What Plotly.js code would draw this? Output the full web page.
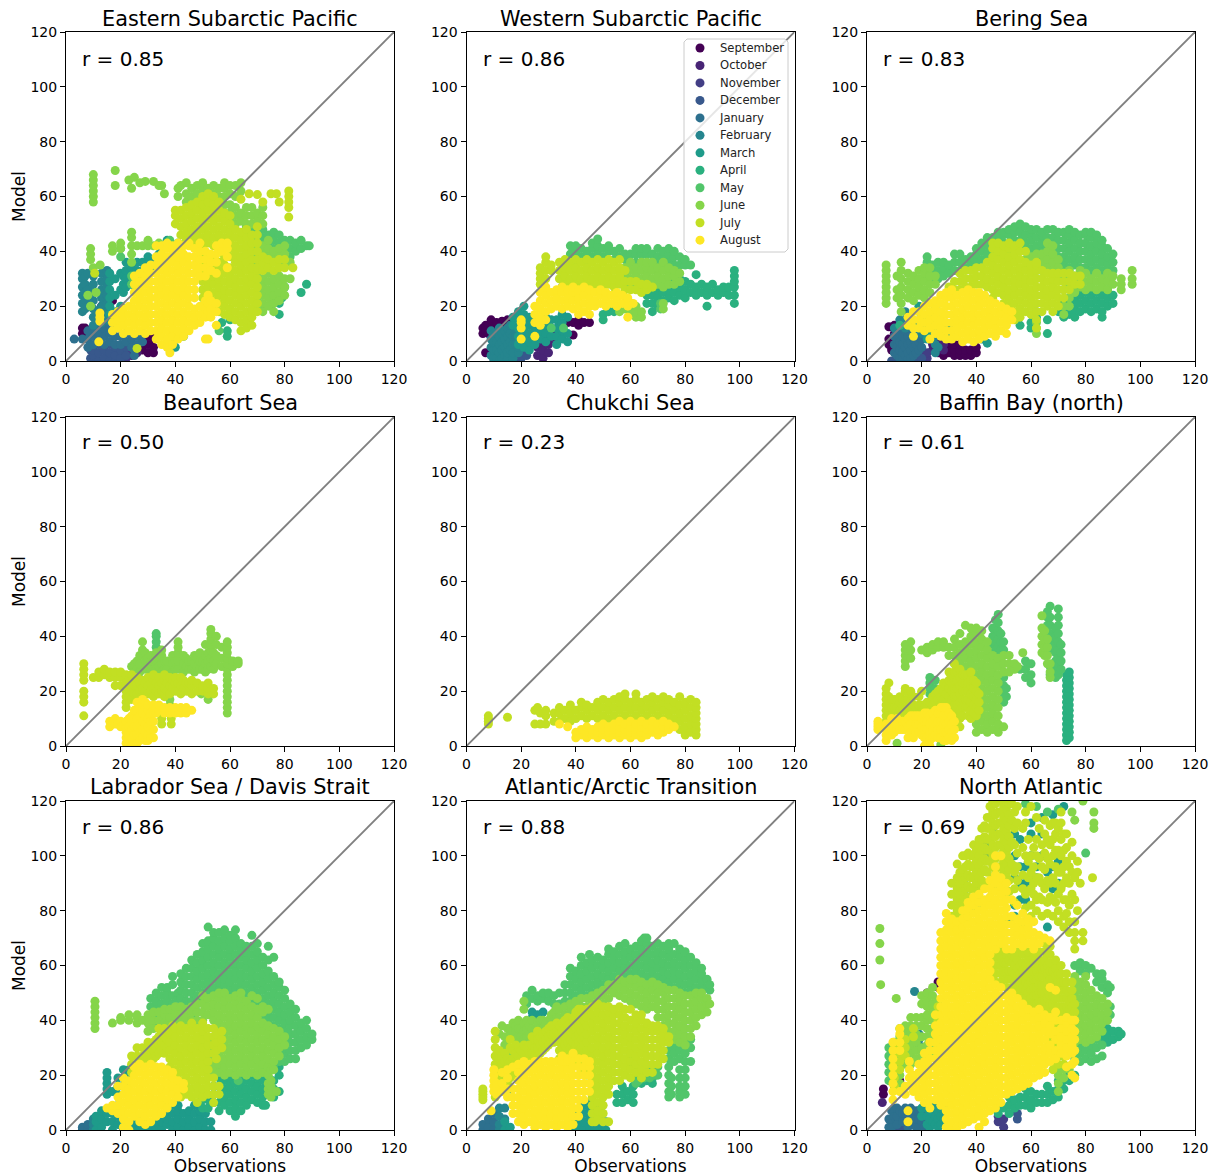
<!DOCTYPE html>
<html><head><meta charset="utf-8">
<script src="https://cdn.plot.ly/plotly-3.0.1.min.js"></script>
<style>html,body{margin:0;padding:0;background:#fff}</style></head>
<body><div id="chart" style="width:1216px;height:1176px"></div>
<script>
// Every column below reads [observation value, model value, model value, ...]
const monthNames=["September","October","November","December","January","February","March","April","May","June","July","August"];
const monthColors=["#440154","#482475","#433e85","#38588c","#2d708e","#25858e","#1e9b8a","#2ab07f","#51c56a","#85d54a","#c2df23","#fde725"];
const panelTitles=["Eastern Subarctic Pacific","Western Subarctic Pacific","Bering Sea","Beaufort Sea","Chukchi Sea","Baffin Bay (north)","Labrador Sea / Davis Strait","Atlantic/Arctic Transition","North Atlantic"];
const panelR=["r = 0.85","r = 0.86","r = 0.83","r = 0.50","r = 0.23","r = 0.61","r = 0.86","r = 0.88","r = 0.69"];
const axisTicks=[0,20,40,60,80,100,120];

// Eastern Subarctic Pacific
const eastSep=[[6,10,12],[7,12],[8,11],[13,20],[14,21],[15,21],[17,22],[28,4,7],[30,3,6,9],[32,3,5,8,10]];
const eastOct=[[24,2],[26,3,5]];
const eastNov=[[18,1,3],[20,2],[22,1,4]];
const eastDec=[[9,1,4],[10,0,2,4],[12,0,3,6],[14,1,4],[16,0,3,6],[18,0,2,5],[20,1,4],[22,2,5]];
const eastJan=[[3,8],[6,8],[8,5,8,11],[10,6,9,12],[12,7,10,13],[14,6,9,12],[16,7,10,13],[18,6,9,12],[20,6,9],[22,7,10],[24,5,8],[26,6,9],[28,7,10],[25,2,4]];
const eastFeb=[[6,18,21,24,27,30,32],[7,19,22,25,28,31],[8,20,26,32],[10,13,16,19,22,25,28,31],[11,15,18],[13,14,17,20,23,26,29,32],[15,15,18,21,24,27,30,33]];
const eastMar=[[16,17,20,23,26,29,32],[18,15,18,24,30],[20,20,26,32],[21,25,28,31],[22,27,30,33,36],[24,28,31,34],[26,27,30,33,36],[28,30,33,36],[30,32,35,38],[32,33,36],[34,39,42],[37,44],[40,5,8]];
const eastApr=[[43,9,11],[59,9,11],[86,25],[88,28],[78,17],[80,27],[79,23,25],[72,20],[75,20],[76,22],[78,21],[57,14],[60,15]];
const eastMay=[[66,46,49],[68,44,47],[70,40,43,46,49],[72,39,42,45,48],[74,40,43,46],[76,38,41,44,47],[78,40,43,46],[80,38,41,44],[82,38,41,44],[84,40,43],[86,41,44],[88,42],[89,42],[56,11],[38,44],[41,43],[20,38,41],[24,28,31]];
const eastJun=[[41,60,63],[42,64],[44,58,61,65],[46,60,63],[48,58,61,64],[50,59,62,65],[52,60,63],[54,58,61,64],[56,60,63],[58,54,57,60,63,65],[60,51,54,57,61,64],[62,50,53,56,60,64],[64,51,54,62,65],[66,36,39,42,50,53,56],[68,35,38,41,44,50,53,56],[70,19,22,25,28,31,36,39,42,51,54],[72,18,21,24,27,30,36,39,42,50,53,56],[74,20,23,26,29,32,35,38,41,44],[76,18,21,24,27,30,37,40],[78,22,25,28,31,35,38,41],[80,24,27,30,36,39,42],[82,30,36],[10,58,60,62,64,66,68],[18,64,69.5],[23,66],[24,36,39,42,45,47,63],[25,67],[27,65],[29,65.5],[32,65.5],[34,64],[36,61],[35,64],[17,40,42],[20,41,43],[26,42],[28,42],[30,42,44],[32,42],[34,43],[9,37,39,41],[10,34],[12.5,35],[8,24],[11,25],[9,20]];
const eastJul=[[26,4.6],[10.5,32],[40,50,53,55],[42,46,49,52,55],[44,44,47,50,53,56],[46,42,45,48,51,54,57],[48,43,46,49,52,55,58],[50,17,20,23,26,29,32,35,38,42,45,48,51,54,57,60],[52,18,21,24,27,30,33,36,43,46,49,52,55,58,61],[54,19,22,25,28,31,34,37,42,45,48,51,54,57,60],[56,18,21,24,27,30,33,36,40,43,46,49,52,55,58],[58,17,20,23,26,29,32,35,38,42,45,48,51,54],[60,16,19,22,25,28,31,34,38,41,44,47,50,53],[62,15,18,21,24,27,30,33,36,39,42,45,48],[64,11,14,17,20,23,26,29,32,35,38,41,44,47,59],[66,12,15,18,21,24,27,30,33,36,39,42,45,48],[67,61],[68,13,16,19,22,25,28,31,34,37,40,43,46],[70,18,21,24,27,30,33,34,37,40,43,46,49,60.7],[72,33,36,38,58],[74,34,37],[75,61],[76,33,36],[77,61],[78,34,37,58],[80,34,37],[81.5,52.5,56,58,60,62],[83,34]];
const eastAug=[[12,7],[12.4,14.5,16,17.5],[17,11,14,17],[19,12,15,18],[21,10,13,16,19],[23,11,14,17,20],[25,10,13,16,19,22,25,28,31],[27,11,14,17,20,23,26,29,32],[29,10,13,16,19,22,25,28,31,34],[31,11,14,17,20,23,26,29,32,35],[33,8,11,14,17,20,23,26,29,32,35,38,42],[35,6,9,12,15,18,21,24,27,30,33,36,39,42],[37,5,8,11,14,17,20,23,26,29,32,35,38,41,43],[38,3],[39,6,9,12,15,18,21,24,27,30,33,36,39,42],[41,8,11,14,17,20,23,26,29,32,35,38,41,43],[43,9,12,15,18,21,24,27,30,33,36,39,42],[45,11,14,17,20,23,26,29,32,35,38,42,43],[47,13,16,19,23,26,29,32,35,38,41],[49,14,17,20,31,34,37,40,43],[51,8,16,19,22,31,34,37,40],[52,8,18,21,24],[53,16,19,22,33,36,39],[55,13,18,21,32,36,39,42],[57,40,43],[59,34,38,41,43]];

// Western Subarctic Pacific
const westSep=[[6,10,12],[7,3,11,13],[8,10,13],[9,12,15],[11,12,14],[13,13,14.5],[15,13,15],[17,14],[37,14],[39,14,9.5],[41,13,15],[43,14],[45,14]];
const westOct=[[22,4,7],[24,6,9],[26,2,5,8],[28,1,4,7,10],[30,3,6,9,12],[32,8,11],[34,10]];
const westDec=[[16,1,3],[18,0,2,4],[20,1,3,5],[22,2,4]];
const westJan=[[10,0],[14,0,2]];
const westFeb=[[9,2,5,8,11],[10,1,4,7,10],[11,1,4,7,10],[12,0,3,6,9,12],[13,1,4,7,10],[14,2,5,8,11],[15,1,3,6,9,12],[16,4,7,10,13],[17,1,3,6,9],[18,6,9,12],[19,3,5],[20,7,10,13]];
const westMar=[[17,13,16],[19,6,9,12,15,18],[21,5,8,11,14,17,20],[23,4,7,10,13,16],[25,6,9,12,15],[27,8,11,14],[29,7,10,13,16],[31,9,12,15],[33,6,9,12,15],[35,8,11,14,17,27,30],[37,7,10,16,26,29]];
const westApr=[[50,15,17],[52,18],[54,18,20],[66,21,24],[68,18,21,24],[70,20,23,26],[72,22,25,28],[74,23,26,29],[76,22,25,28,30],[78,24,27,30],[80,23,26,29],[82,25,28],[84,24,27,31.5],[86,25,28],[88,20,24,27],[90,25,28],[92,24,26],[94,25,27],[96,24,27],[98,21,24,27,29,31,33]];
const westMay=[[38,36,39,42],[40,37,40,42],[42,38,41],[44,37,40],[46,38,41,43],[48,39,42,44.5],[50,38,41],[52,40,42],[54,37,40],[56,38,41],[58,37,39],[60,36,39],[62,36,39,41],[64,36,39,41],[66,36,39,41],[68,36,39],[70,35,38,41],[72,35,38,40],[74,36,39,41],[76,35,38,40],[78,35,38],[80,35,37],[82,35],[71,19,21],[31,12],[35.5,12]];
const westJun=[[58,28,31,34],[60,27,30,33,36],[62,28,31,34],[64,27,30,33,36],[66,28,31,34,36],[68,27,30,33,36],[70,28,31,34],[72,27,30,33,36],[74,28,31,34],[76,28,31,33],[78,29,32],[56,18,20],[58,19,21],[60,17,19,21],[62,16,18,20],[64,16,18],[72,19,21]];
const westJul=[[27,28,30,32,34],[29,30,33,36,38],[31,33,35],[34,30,33,36],[36,28,31,34,37],[38,27,30,33,36],[40,24,28,31,34,37],[42,27,30,33,36],[44,28,31,34,37],[46,27,30,33,36],[48,28,31,34,37],[50,27,30,33,36],[52,28,31,34,37],[54,27,30,33,36],[56,28,31,34,37],[58,26,29,33],[60,26,29],[62,26,29],[64,25,28],[66,26,28],[68,27]];
const westAug=[[20,8,12,14,15],[25,9,14,17,20],[27,13,16,19,22,25],[29,15,18,21,24,27],[31,19,22,25],[33,20,23,26],[35,19,22,25,27],[37,20,23,26],[39,19,22,25,27],[41,17,20,23,26],[43,18,21,24,27],[45,17,20,23,26],[47,20,22,25],[49,21,24,26],[51,20,23,25],[53,21,24],[55,20,23,25],[57,21,24],[59,16,20,23],[61,21]];

// Bering Sea
const berSep=[[8,6,8,12.5],[9,4,7],[10,10,13],[26,3,5],[28,2,4,6],[30,3,5,7],[32,2,4,6],[34,2,4,6],[36,2,4],[38,2,4],[40,3,5]];
const berOct=[[24,4,6],[26,7],[28,4,6]];
const berNov=[[20,2,4],[22,1,3]];
const berDec=[[18,0,2],[20,1],[9,0],[11,0,2]];
const berJan=[[10,3,6,9],[11,2,5,8],[12,1,4,7,10],[13,1,3,6,9],[14,2,5,8,11],[15,1,3,6,9,12],[16,1,4,7,10],[17,2,5,8],[18,3,6,9],[19,4,7],[20,5,8]];
const berFeb=[[10,12],[12,13,15],[14,12,15,18],[16,13],[18,12],[20,10,12],[25,3,6,9,12],[26,5]];
const berMar=[[18,12,14],[20,13,15],[22,8,11,14],[24,10,13,16],[26,12,15],[28,9,12],[30,10,13],[19,18,20],[25,19],[44,6.5],[42,8,10]];
const berApr=[[60,12,14],[62,16,18],[66,10,15],[70,18,20],[72,16,19,22],[74,17,20,23],[76,16,19,22,25],[78,18,21,24],[80,19,22,25],[82,18,21,24,26],[84,19,22,25],[86,16,18,21,24],[88,20,23,26],[90,21,24],[56,13],[12,13]];
const berMay=[[22,30,33,36,38],[24,29,32,35],[26,30,33,36],[28,31,34,36],[30,32,35],[32,33,36,39],[34,33,36,39],[36,34,37],[38,35,38],[40,36,39,41],[42,37,40,43],[44,39,42,45],[46,37,40,43,45],[48,38,41,44,47],[50,40,43,46,47],[52,40,43,46,48],[54,41,44,47,49],[56,41,44,47,50],[58,40,43,46,49],[60,38,41,44,47,48],[62,36,39,42,45,48],[64,37,40,43,46,47],[66,36,39,42,45,48],[68,36,39,42,45,48],[70,35,38,41,44,47],[72,35,38,41,44,47],[74,34,37,40,43,46,48],[76,35,38,41,44,47],[78,34,37,40,43,46],[80,34,37,40,43,46,47],[82,33,36,39,42,45,47],[84,34,37,40,43,46],[86,33,36,39,42,44],[88,32,35,38,41],[90,33,36,39]];
const berJun=[[7,21,23,25,27,29,31,33,35],[11,23,26,31],[12.5,18,21,24,27,30,33,36],[15,23,26,29,32],[17,22,25,28,31],[19,24,27,30,33],[21,23,26,29,32,34],[23,25,28,31,34],[25,28,31],[58,34,37],[60,32,35,38],[62,10,12,14,33,36,39],[64,33,36,39],[66,34,37,40,43],[68,33,36,39,42],[70,31,34,37],[72,17,20,26,29,32],[74,20,23,27,30,33],[76,25,28,31],[78,27,30,33],[80,26,29,32],[82,27,30],[84,26,29,32],[86,27,30],[88,26,29,32],[90,28,31],[93,26,28,30],[97,28,30,33]];
const berJul=[[30,27],[32,26,29],[34,26,29,32],[36,27,30,33],[38,27,30,33],[40,28,31,34],[42,28,31,34],[44,27,30,33,36],[46,23,26,29,32,35,38,41,43],[48,25,28,31,34,37,40,43],[50,18,21,24,27,30,33,36,39,42],[52,17,20,23,26,29,32,35,38,41,43],[54,15,18,21,24,27,30,33,36,39,42],[56,16,19,22,25,28,31,34,37,40,43],[58,18,21,24,27,30,33,36,40],[60,17,20,23,26,29,32,35],[62,12,15,18,21,24,27,30,33,35,36],[64,18,21,24,27,30,33],[66,20,23,26,29,32],[68,18,21,24,27,30,32],[70,20,23,26,29,32],[72,23,26,29,32],[74,26,29,32],[76,28,31],[78,28,31]];
const berAug=[[15,13,16],[17,9,12,15,18],[19,12,15,18],[21,11,14,17,20],[23,8,12,15,18,21],[25,10,13,16,19,22],[27,9,12,15,18,21,24],[29,8,11,14,17,20,23,25],[31,8,11,14,17,20,23,26],[33,9,12,15,18,21,24],[35,7,10,13,16,19,22,25],[37,8,11,14,17,20,23,26],[39,7,10,13,16,19,22,25],[41,8,11,14,17,20,23,25],[43,9,12,15,18,21,24],[45,10,13,16,19,22],[47,9,12,15,18,21],[49,11,14,17,20],[51,10,13,16,19],[53,15,18]];

// Beaufort Sea
const beaMay=[[33,36,38,40,41]];
const beaJun=[[24,29],[25,27,30],[26,28,31],[27,27,30,33],[28,35,38],[29,28,31,34],[30,29,32],[31,27,30,33],[32,28,31],[33,28,31,34],[34,29,32],[35,27,30,33,35],[36,28,31],[37,28,31],[38,15,17],[39,27,30,33],[40,28,31],[41,28,31,34,36,38],[43,27,30,33],[44,29,32],[45,28,31],[46,28,31],[47,27,30,33],[48,29,32],[49,28,31,34],[49.5,19],[50,28,31],[51,27,30,33,37],[52,17,28,31,34],[53,29,32,35,37,39,41,42.5],[54,28,31,34],[55,30,33,37,40],[57,29,32,36],[59,12,14,16,18,20,22,24,26,28,30,32,34,36,38],[61,29,31],[63,30,31]];
const beaJul=[[6.5,11,16,18,20,24,26,28,30],[10,25],[12,25,27],[14,26,28],[16,25,27],[18,22,25,27],[20,22,25,27],[22,14,16,18,20,23,26],[23,18,21,24],[24,17,20,23,26],[25,19,22],[26,19,22,25],[27,20,23],[28,18,21,24],[29,20,23],[30,19,22,25],[31,20,23],[32,18,21,24,26],[33,20,23],[34,19,22,25],[35,8,10,12,20,23],[36,18,21,24,26],[37,20,23],[38,19,22,25],[38.5,8,10,12],[39,21,24],[40,20,23,25],[41,20,23],[42,19,22,25],[43,21,24],[44,20,23],[45,20,23],[46,19,22,24],[48,20,23],[50,20,22],[52,19,21,23],[54,19,21]];
const beaAug=[[16,7,9],[17,8],[18,8,10],[19,8],[20,7,9],[21,8],[22,1,3,5,7,9],[23,1,4,7,10],[24,0,3,6,9,11],[25,1,4,7,10,13],[26,1,4,7,10,13,16],[27,2,5,8,11,14],[28,3,6,9,12,15,17],[29,2,5,8,11,14,16],[30,2,4,7,10,13,15],[31,3,6,9,12],[32,3,6,9,12,15],[33,12,14],[34,13,15],[36,12,14],[38,12,14],[40,12,14],[42,12,14],[44,12,14],[46,13]];

// Chukchi Sea
const chuJul=[[8,8,9,10,11],[15,10.5],[25,8,13],[26,14],[27,8,12],[29,8,11,13],[32,9,12],[34,9,12,14],[36,10,13],[38,9,12,15],[40,10,13],[42,11,14,16],[44,10,13,15],[46,11,14],[48,10,13,16],[50,11,14,17],[52,10,13,16],[54,11,14,17],[56,10,13,16,18],[58,11,14,17,19],[60,10,13,16],[62,11,14,17,19],[64,10,13,16],[66,11,14,17],[68,10,13,16,18],[70,11,14,17],[72,10,13,16,18],[74,9,12,15,17],[76,10,13,16],[78,6,9,12,15,18],[80,4,7,10,13,16],[82,5,8,11,14,17],[84,4,6,8,10,12,14,16]];
const chuAug=[[34,8],[37,7],[40,3,5],[42,4,6],[44,3,5,7],[46,4,6],[48,3,5,7],[50,4,6,8],[52,3,5,7],[54,4,6,8],[56,3,5,7,9],[58,4,6,8],[60,3,5,7,9],[62,4,6,8],[64,3,5,7,9],[66,4,6,8],[68,5,7,9],[70,4,6,8],[72,5,7,9],[74,6,8],[76,7]];

// Baffin Bay (north)
const bafApr=[[73,2,4,6,8,10,12,14,16,18,20,22,24,26],[74,3,5,7,9,11,13,15,17,19,21,23,25,27]];
const bafMay=[[23,19,21,23,25],[25,21,24],[46,34,37,40,43],[47,31,34,37,40,43,46],[48,33,36,39,42,45,48],[49,32,35,38,41],[50,16,19,22,25,35,38],[51,18,21],[56,28],[58,25,28,31],[60,23,26,30],[66,44,47,49],[67,26,29,35,38,41,44,47,51],[69,25,28,31,34,37,40,43],[70,26,29,32,35,38,41,44,47,50],[71,28,31,34,37]];
const bafJun=[[14,29,31,33,35,37],[16,32,35,38],[20,35],[22,34,36],[24,35,37],[26,36,38],[28,36,38],[30,33,36],[32,30,33,36,39],[34,28,31,34,37,41],[36,26,29,32,35,38,44],[38,22,25,28,31,34,37,40,43],[40,5,8,11,14,17,20,23,26,29,32,35,38,41,43],[42,6,9,12,15,18,21,24,27,30,33,36,39,42],[44,5,8,11,14,17,20,23,26,29,32,35,38],[46,6,9,12,15,18,21,24,27,30,33],[48,5,8,11,14,17,20,23,26,29,32],[50,7,27,30,33],[52,27,30,33],[54,28,30],[55,29],[57,34],[64,34,37,40,43,47.5],[65,33,36,39,42],[66,30,33,36,39],[67,25,27,30],[11,1],[27,0.5,3]];
const bafJul=[[7,9,11,13,15,17,19,21],[8,10,12,14,16,18,23],[9,11,14,17],[10,11,14,17],[11,11,14,17],[12,10,13,16,18],[13,11,14,17],[14,11,14,17,20,21],[15,11,14,17],[16,10,13,16,19,20],[17,12,15,18],[18,11,14],[19,12,15,18],[20,12,15,20],[21,11,14],[22,10,13,16],[23,13,16],[24,12,15,18],[25,13,16,19],[26,14,17,20],[27,15,18,21],[28,11,14,17,20,23],[29,13,16,19,22],[30,15,18,21,24,27],[31,14,17,20,23,26],[32,12,15,18,21,24,27,30],[33,12,15,18,21,24,27],[34,7,10,13,16,19,22,25,28],[35,11,14,17,20,23,26],[36,14,17,20,23,26],[37,11,14,17,20,23,26],[38,10,13,16,19,22,24,27],[39,12,15,18,21,24],[40,11,14,17,20,23],[41,13,16,19]];
const bafAug=[[4,6,7,8,9],[5,7],[7,2,4,6,8],[8,4,7],[9,4,6,8,10],[10,5,8],[11,6,8,10],[12,6,9],[13,6,9],[14,6,9],[15,3,7,10],[16,5,8,11],[17,3,6,9,11],[18,5,8,11],[19,5,8,11],[20,4,7,10],[21,0,3,6,9,12],[22,3,6,9,12],[23,0,2,5,8,11],[24,3,6,9,12],[25,4,7,10,13],[26,3,6,9,12],[27,3,6,9,12,14],[28,2,5,8,11,14],[29,2,5,8,11,14],[30,3,6,9,12],[31,2,5,8,11],[32,3,6,9]];

// Labrador Sea / Davis Strait
const labJan=[[6,0,1],[8,0,2]];
const labFeb=[[10,0,2,4],[12,1,3,5]];
const labMar=[[11,0,3,5],[13,1,4,7],[15,3,6,13,15,17,19,21],[17,0,3,6,14],[19,2,5,9,13,16,19],[21,0,4,16,19,22],[23,1,18,20,22],[25,0,3],[27,1,3],[29,0,2],[31,0,2],[33,1,3],[35,0,3],[37,2,4,7,10],[39,0,3,6,9],[41,1,4,7,9],[43,0,3,6],[45,1,4,7],[47,0,3,6,9],[49,1,4,7,10],[51,0,3,6],[53,0,3]];
const labApr=[[50,8,11,14],[52,8,11],[54,10,13,16],[56,7,10,13,16,19,21],[58,9,12,15,18,21],[60,7,10,13,16,19],[62,5,8,11,14,17,20],[64,7,10,13,16,19],[66,9,12,15,18,21],[68,11,14,17,20],[70,10,13,16,19],[72,9,12,15,18,21],[73,9],[74,13,16,19],[76,12,15,18],[78,14,20,23]];
const labMay=[[31,45,48],[33,38,41,44,47,50],[35,40,43,46,49,52],[37,41,44,47,50,52],[39,40,43,46,49,53,56],[41,42,45,48,50],[42,45,48,51,54,57],[44,41,44,47,50,53,56,59],[46,41,44,47,50,53,56,59,62],[48,43,46,49,52,55,58,61,64],[50,47,50,53,56,59,62,65,68],[52,48,51,54,57,60,63,66,69,74],[54,50,52,55,58,61,64,67,70,72],[56,48,51,54,57,60,63,66,69,72],[58,50,53,55,58,61,64,67,70,73],[60,48,51,54,57,60,63,66,69,71],[62,50,52,55,58,61,64,67,70,73],[63,18],[64,48,51,54,57,60,63,66,68],[66,47,50,53,56,59,62,65,67],[68,46,49,52,55,58,61,64,67,71],[70,44,47,50,53,56,59,62,65,68],[72,42,45,48,51,54,57,60,63],[74,40,43,46,49,52,55,58,62,67],[76,24,38,41,44,47,50,53,56,63],[78,25,28,31,34,37,40,43,46,49,52,54],[80,25,28,30,33,36,39,42,45,48,51],[82,26,29,32,35,38,40,43,46],[84,26,29,32,35,38,41,44],[86,30,33,36,39],[88,31,34,37,40],[90,33,35]];
const labJun=[[10.6,37,39,41,43,45,47],[17,39],[20,40,41],[23,40,42],[26,39,41,42],[28,40],[30,36,39,42],[32,37,40,43],[34,34,37,40,43],[36,36,39,42,44],[38,38,41,44],[40,37,40,43,45],[42,39,42,45],[44,38,41,44],[46,40,43,45],[48,39,40,43,46],[50,24,27,30,33,36,40,43,46,49],[52,21,24,27,30,33,42,45,48],[54,20,23,26,29,40,43,46,49],[56,21,24,27,30,33,36,39,42,45,48,50],[58,20,23,26,29,32,35,38,41,44,47,50],[60,21,24,27,30,33,36,39,42,45,48],[62,20,23,26,29,32,35,38,41,44,47,49],[64,21,24,27,30,33,36,39,42,45,48,50],[66,20,23,26,29,32,35,38,41,44,47],[68,21,24,27,30,33,36,39,42,45,49],[70,20,23,26,29,32,35,38,41,44,48],[72,21,24,27,30,33,36,39,43,45],[74,13,15,17,20,23,26,29,32,35,38,44],[75,12,14,16,18,22],[76,22,25,28,31,34,37],[77,14],[78,27,30,33,36],[80,31,34]];
const labJul=[[24,21,24,27],[26,24,27,30],[28,24,27,30],[30,26,29,32],[31,27,30],[32,26,29,32],[33,27,30,33],[34,28,31,34,37],[35,29,32,35],[36,28,31,34,37],[37,30,33,36],[38,14,17,20,23,26,29,32,35],[39,35,38],[40,13,16,19,22,25,28,31,34,37],[42,12,15,18,21,24,27,30,33,36,38],[44,13,16,19,22,25,28,31,34,37],[46,12,15,18,21,24,27,30,33,36,39],[48,10,13,16,19,22,25,28,31,34,37],[50,12,15,18,21,24,27,30,33,36,39],[52,13,16,19,22,25,28,31,34,37],[54,10,13,16,19,28,31,34,37],[55,26,29,32,35],[56,13,16],[57,30,33,36]];
const labAug=[[15,8],[17,7,9],[19,6,9,12,16],[21,1,4,7,10,13,16,19],[23,0,3,6,9,12,15,18],[25,5,8,11,14,17,20,23],[27,3,6,9,12,15,18,21,24],[29,2,5,8,11,14,17,20,23],[31,3,6,9,12,15,18,21,24],[33,5,8,11,14,17,20,23],[35,6,9,12,15,18,21,23],[37,8,11,14,17,20,22],[39,10,13,16,19,21],[41,12,15,18],[43,15,17]];

// Atlantic/Arctic Transition
const atlJan=[[6,0,2],[8,1,4],[10,0,3,6]];
const atlFeb=[[12,0,2,5,8],[14,1,4,8]];
const atlMar=[[14,0,3],[16,1,15],[39,0,3],[41,1,4,7],[43,0,3,6,9],[45,1,4,7,10],[47,0,3,6,9],[49,1,4,7],[51,0,3],[20,30,32],[22,34],[24,36,41,43],[26,42],[28,43]];
const atlApr=[[55,10,13],[57,10,13,16],[59,11,14],[61,10,13,16],[64,17,19],[66,18,20],[68,17,19],[29,36]];
const atlMay=[[22,46,49],[24,48,51],[26,47,49],[28,48,50],[30,47,50],[32,46,49],[34,46,50],[36,47,50,53],[38,47,50,53,56,59],[40,46,49,52,55,58],[42,48,51,54,57,60,63],[44,49,52,55,58,61],[45,64],[46,50,53,56,59,62],[48,50,51,54,57,60,63],[50,51,53,56,59,62],[52,52,55,58,61,64,66],[54,54,56,59,62,65],[56,52,55,58,61,64,67],[58,53,56,59,62,65,68],[60,24,27,54,57,60,63,66],[62,17,20,23,55,58,61,64,67],[63,18,21],[64,22,57,60,63,66,69],[65,19,22,70],[66,53,56,59,62,65,68,70],[67,19,22],[68,52,55,58,61,64,67],[69,20,23],[70,20,23,53,56,59,62,65,68],[72,52,55,58,61,64,67],[74,12,14,17,20,23,26,29,51,54,57,60,63,66,68],[75,13,16,19],[76,25,28,31,52,55,58,61,64,68],[78,12,14,16,19,22,26,29,32,35,51,54,57,60,63,66],[80,13,16,19,22,25,28,31,34,37,50,53,56,59,62,65],[82,25,30,33,51,54,57,60,63],[84,49,52,55,58,61],[86,48,51,54,57,59],[88,52,55],[89,51,53]];
const atlJun=[[12,35],[13,38],[14,31,34],[15,37],[16,28,35,37],[17,36,39],[18,33,36,38],[19,31,34,37,40],[20,31,34,37],[21,33,36,39,44,47],[22,31,34,37,40],[23,32,35,38],[24,33,37,40],[25,30,33,36],[26,33,36,39],[27,31,34,37,40],[28,34,37,40],[29,33,36,39],[30,34,37,40],[31,36,39,42],[32,37,40,43],[33,38,41,44,45],[34,41,44],[36,42,45],[38,43,46],[40,44,47],[42,45,48],[44,45,48],[46,46,49],[48,47,50],[50,46,49,51],[52,48,51,53],[54,50,53],[56,49,52,55],[58,48,51,54],[60,47,50,53,55],[62,46,49,52,55],[64,45,48,51,54],[66,44,47,50,53],[68,45,48,51,54],[70,41,44,47,50,53],[72,38,41,44,47,50,52],[74,33,36,39,42,45,48,51],[76,33,36,39,42,45,48,51],[78,32,35,38,41,44,47,50],[80,31,34,37,40,43,46,49],[82,34,37,40,43,46,49],[84,38,41,44,47,50],[86,42,45,48,50],[88,43,46,48],[89,46]];
const atlJul=[[6,11,12,13,14,15],[10.5,12,15,18,21,24,27,30,33,36],[12,14,17,20,23,26,29],[13,15,18,21,24,27],[14,16,19,22,25,28],[15,17,20,23,26],[16,19,22,25,30,33],[17,20,23,26,29],[18,22,25,28,31],[19,24,27,30],[20,23,26,29],[21,25,28,31],[22,24,27,30],[23,25,28,31],[24,25,28,31,34],[25,27,30,33],[26,27,30,33,36],[27,28,31,34],[28,29,32,35],[29,30,33,36],[30,31,34,37],[31,32,35,38],[32,32,35],[33,33,36,39],[34,26,29,32,35,38],[35,27,30,33,36,39],[36,25,28,31,34,37,40],[37,26,29,32,35,38,41],[38,24,27,30,33,36,39],[39,26,29,32,35,38,41],[40,25,28,31,34,37,40,43],[41,26,29,32,35,38,41,44],[42,24,27,30,33,36,39,42,44],[43,22,25,28,31,34,37,40,43],[44,20,23,26,29,32,35,38,41,44],[46,3,6,9,12,15,18,21,24,27,30,33,36,39,42,45],[47,3],[48,4,7,10,13,16,19,22,25,28,31,34,37,40,43,46],[50,3,6,9,12,15,18,21,24,27,30,33,36,39,42,45],[52,3,13,16,19,22,25,28,31,34,37,40,43,45],[54,18,21,24,27,30,33,36,39,42,44],[56,18,21,24,27,30,33,36,39,42,45],[58,20,23,26,29,32,35,38,41,44],[60,19,22,25,28,31,34,37,40,44],[62,21,24,27,30,33,36,39,42],[64,19,22,25,28,31,34,37,40,42],[66,21,24,27,30,33,36,39],[68,21,24,27,30,33,36,38],[70,24,27,30,33,36,38],[72,26,29,32,35,37],[74,32,34]];
const atlAug=[[9,7],[10,14,16,18,20,22],[11,13,15,17],[13,14,17,21],[15,12,15,19,22],[17,6,9,12,15,23],[19,3,6,9,12,15,18,21,24],[21,2,5,8,11,14,17,20,23,25],[23,3,6,9,12,15,18,21,24],[25,1,4,7,10,13,16,19,22,25],[27,2,5,8,11,14,17,20,23,25],[29,1,4,7,10,13,16,19,22,25],[31,2,5,8,11,14,17,20,23,25],[33,1,4,7,10,13,16,19,22,25],[35,2,5,8,11,14,17,20,23,25,27],[37,1,4,7,10,13,16,19,22,25,26],[39,2,5,8,11,14,17,20,23,26,28],[41,5,8,11,14,17,20,23,26],[43,11,14,17,20,23,26],[45,14,17,20,23,25]];

// North Atlantic
const natSep=[[6,13,15],[26,52,54],[24,45],[11,24,26],[12,18],[22,50]];
const natOct=[[5.6,10]];
const natNov=[[48,3,5],[50,1,4]];
const natDec=[[55,4,6],[10,0,2],[12,1,4],[14,0,3,6]];
const natJan=[[8,1,4],[9,1,4,7],[10,5,8],[11,2,5,8],[12,7],[13,3,6],[14,8],[15,1,3,6],[16,2,5,8],[17,2,5],[18,1,4,7],[19,1,4,7],[20,3,6],[21,1,4]];
const natFeb=[[17.4,50.5],[19,31,33,35]];
const natMar=[[20,5,8],[22,2,5,8],[23,1,4,7],[24,3,6,9],[25,2,5,8],[26,1,4,7],[27,2,5,8],[28,4,8],[36,88,92],[38,80,84],[40,84,88],[42,82],[44,100,105],[46,110],[48,88],[50,86,90],[52,76],[54,78,82,92,96,100,108],[56,74,84,90,96,106],[58,76,84,90,96],[60,100,108,112],[62,92,96],[64,100,108,114],[66,74,94],[68,88,96,115],[70,90,98],[72,118]];
const natApr=[[48,6,9],[50,8],[52,6,9,12],[54,8,11],[56,9,12],[58,9,12,15],[60,8,11,14],[62,10,13],[64,10,13],[66,10,13,16],[68,11,14],[70,12,15,18],[72,15,18],[74,18,20],[76,20],[86,34,36,38],[88,32,35,37],[90,33,36],[92,34,36],[93,35]];
const natMay=[[76,26,29,60],[78,25,28,31,58,61],[80,26,29,57,60,101],[82,25,28,31,59],[84,26,30,33,54,57],[86,27,31,52,55,57],[88,50,53],[89,42,45,52],[10,25,28,31],[8,18,21,24,27,30],[14,27,30,33,37],[66,116],[62,118],[70,117],[58,119]];
const natJun=[[4.7,62,68,73.5],[5,53],[10,18,21,24,27,30,32],[10.7,48],[12,17,20,23,26,29,32,34,37],[14,24,27,30,35,38],[16,24,28,31,34,36,38,41],[18,26,29,32,35,38,41],[20,25,28,30,34,38,41,46,49],[22,22,25,28,31,34,37,40,42,45,47,50],[24,27,30,33,36,37,40,43,46,49,52],[26,29,32,38,44,47],[76,32,35,38,41,44,47,50,53,56,113],[78,33,36,39,42,45,48,51,54],[80,32,35,38,41,44,47,50,53,56],[82,33,36,39,42,45,48,51],[84,34,37,40,43,46,49],[86,36,39,42,45,48],[88,40,43,46],[70,14,17,20,23],[72,19,22],[74,22],[75,116],[79,120],[83,116,112,110]];
const natJul=[[10,16,19,22,25,28,31],[12,22,25,28,31],[14,27,30,33],[17,34,37],[26,35,40,45],[31,78,82,86,90],[32,74,78],[33,76,80,84,88,92,97],[34,74,78,82,86,90,94],[35,79,83,87,91,95,100],[36,76,80,84,88,92,96,100],[37,85,89,93,97,101],[38,84,88,92,96,100],[39,88,92,96,100,104],[40,86,90,94,98,102],[41,92,96,100,104,106],[42,88,91,94,98,102,106,110],[43,95,99,103,107,111],[44,90,94,98,102,106,110,114],[45,98,102,106,110,114,118],[46,92,96,100,104,108,112,116,120],[47,54,57,60,63,95,99,103,107,111,115,119],[48,60,63,66,92,96,100,104,108,112,116,120],[49,54,57,60,63,66,96,100,104,108,112,116,120],[50,58,61,64,68,90,94,98,102,106,110,114,118],[51,52,55,58,61,64,93,97,101,105,109,113,117,120],[52,55,58,62,65,87,91,95,99,103,107,111,115,119],[53,52,55,58,61,64,97,105,113,119],[54,54,57,60,63,83,88,94,104,110,116],[55,50,53,56,59,62,65,91,96,101,112,118],[56,48,51,54,57,60],[57,49,52,55,58,61,64,88,93,103,110],[58,45,48,51,54,57,60,81,86,100,112,116],[59,47,50,53,56,59,62,65,92,98,106],[60,42,45,48,51,54,57,60,78,82,88,94,100,118],[61,46,49,52,55,58,61,64,86,90,96,103],[62,40,43,46,49,52,55,58,62,80,84,92,100,106,114],[63,44,47,50,53,56,59,62,65,85,92,99,110],[64,38,41,44,47,50,53,56,59,78,84,90,96,104],[65,44,47,50,53,56,59,62,65,68,88,95,101,108,113],[66,30,33,36,39,42,45,48,51,54,57,60,79,83,91,99,106],[67,43,46,49,52,55,58,61,64,67,85,90,97,104,111],[68,22,25,28,31,34,37,40,43,46,49,52,55,58,78,84,92,100,106,112],[69,42,45,48,53,56,59,62,83,90,96,102,108,112],[70,24,27,30,33,36,39,42,45,48,51,54,57,76,80,86,94,102,110],[71,42,45,48,51,54,57,60,88,94,100,106,112,116],[72,24,27,30,33,36,39,42,45,48,51,54,74,78,84,90,96,102,108],[73,42,45,48,51,54,57,79,84,92,98,103,108],[74,29,32,35,38,41,44,47,50,72,76,82,90,96],[75,42,45,48,51,54,86,94,100,105],[76,40,43,46,66,69,72,76,84,92],[77,80,94,98],[78,90],[79,69,72],[82.5,92]];
const natAug=[[9.5,11,14,17,20,23,26,29,32],[12,14,29,32,35,37],[14,13,16],[15,3,7],[15.5,16,19,22,25],[17,14,17,20],[19,12,15,18,21,24],[21,10,13,16,19,22,25,28],[23,8,11,14,17,20,23,26,29,32],[25,11,14,17,20,23,26,29,32,35,38,42],[27,9,12,15,18,21,24,27,30,33,36,39,42,45,48,51,54,57,60,63,66,69,72],[29,1,4,7,10,13,16,19,22,25,28,31,34,37,40,43,46,49,52,55,58,61,64,67,70,73,76,79],[31,0,3,6,9,12,15,18,21,24,27,30,33,36,39,42,45,48,51,54,57,60,63,66,69,72,75,77],[33,1,4,7,10,13,16,19,22,25,28,31,34,37,40,43,46,49,52,55,58,61,64,67,70,73,76],[35,2,5,8,11,14,17,20,23,26,29,32,35,38,41,44,47,50,53,56,59,62,65,68,71,74,77,80],[37,3,6,9,12,15,18,21,24,27,30,33,36,39,42,45,48,51,54,57,60,63,66,69,72,75,78,81,83],[39,4,7,10,13,16,19,22,25,28,31,34,37,40,43,46,49,52,55,58,61,64,67,70,73,76,79,82,85],[41,1,5,8,11,14,17,20,23,26,29,32,35,38,41,44,47,50,53,56,59,62,65,68,71,74,77,80,83,86],[43,3,6,9,12,15,18,21,24,27,30,33,36,39,42,45,48,51,54,57,60,63,66,69,72,75,78,81,84,88],[45,7,10,13,16,19,22,25,28,31,34,37,40,43,46,49,52,55,58,61,64,67,70,73,76,79,82,85,88,91],[47,8,11,14,17,20,23,26,29,32,35,38,41,44,47,50,53,66,69,72,75,78,81,84,87,90,93,96,100],[49,10,13,16,19,22,25,28,31,34,37,40,43,46,49,52,68,71,74,77,80,83,86,89,92,100],[51,13,16,19,22,25,28,31,34,37,40,43,46,49,66,69,72,75,78,81,84,87,90],[53,14,17,20,23,26,29,32,35,38,41,44,47,50,66,69,72,75,78,84],[55,15,18,21,24,27,30,33,36,39,42,45,48,68,71,74,77,82],[57,16,19,22,25,28,31,34,37,40,43,46,67,70,73,76,79],[59,17,20,23,26,29,32,35,38,41,44,68,71,74,77],[61,19,22,25,28,31,34,37,40,43,66,69,72,76],[63,20,23,26,29,32,35,38,41,44,68,71],[65,21,24,27,30,33,36,39,42,70],[67,25,28,31,35,38,41,52,69],[69,26,29,33,36,40,43,51],[71,28,31,34,37,40],[73,23,27,30,33,36,39,41],[75,20,24,28,31,34,37,40],[76,19,25,29,33,36,40]];

const panels=[
 [eastSep,eastOct,eastNov,eastDec,eastJan,eastFeb,eastMar,eastApr,eastMay,eastJun,eastJul,eastAug],
 [westSep,westOct,[],westDec,westJan,westFeb,westMar,westApr,westMay,westJun,westJul,westAug],
 [berSep,berOct,berNov,berDec,berJan,berFeb,berMar,berApr,berMay,berJun,berJul,berAug],
 [[],[],[],[],[],[],[],[],beaMay,beaJun,beaJul,beaAug],
 [[],[],[],[],[],[],[],[],[],[],chuJul,chuAug],
 [[],[],[],[],[],[],[],bafApr,bafMay,bafJun,bafJul,bafAug],
 [[],[],[],[],labJan,labFeb,labMar,labApr,labMay,labJun,labJul,labAug],
 [[],[],[],[],atlJan,atlFeb,atlMar,atlApr,atlMay,atlJun,atlJul,atlAug],
 [natSep,natOct,natNov,natDec,natJan,natFeb,natMar,natApr,natMay,natJun,natJul,natAug]
];

const W=1216,H=1176;
const lefts=[66,466.5,867],tops=[32,417,801],sideX=328,sideY=329;
const rTextY=[59,442,827],titleY=[19,403,787];
const traces=[],annotations=[],layout={width:W,height:H,margin:{l:0,r:0,t:0,b:0},showlegend:false,paper_bgcolor:"#fff",plot_bgcolor:"rgba(0,0,0,0)",font:{family:"DejaVu Sans, sans-serif",color:"#000"}};
panels.forEach((panel,p)=>{
  const col=p%3,row=Math.floor(p/3),sfx=p===0?"":String(p+1);
  const xa="x"+sfx,ya="y"+sfx;
  const axisBase={range:[0,120],tickvals:axisTicks,ticks:"outside",ticklen:5,tickwidth:1,tickcolor:"#000",showline:true,linecolor:"#000",linewidth:1,mirror:true,showgrid:false,zeroline:false,tickfont:{size:14,color:"#000"},fixedrange:true};
  layout["xaxis"+sfx]={...axisBase,anchor:ya,domain:[lefts[col]/W,(lefts[col]+sideX)/W],
    title:row===2?{text:"Observations",font:{size:17,color:"#000"},standoff:0}:undefined};
  layout["yaxis"+sfx]={...axisBase,anchor:xa,domain:[1-(tops[row]+sideY)/H,1-tops[row]/H],
    title:col===0?{text:"Model",font:{size:17,color:"#000"},standoff:0}:undefined};
  panel.forEach((cols,m)=>{
    const xs=[],ys=[];
    cols.forEach(c=>{c.slice(1).forEach(v=>{xs.push(c[0]);ys.push(v);});});
    if(xs.length)traces.push({type:"scatter",mode:"markers",name:monthNames[m],x:xs,y:ys,xaxis:xa,yaxis:ya,marker:{color:monthColors[m],size:9,line:{width:0}},hoverinfo:"skip"});
  });
  traces.push({type:"scatter",mode:"lines",x:[0,120],y:[0,120],xaxis:xa,yaxis:ya,line:{color:"#808080",width:1.9},hoverinfo:"skip"});
  annotations.push({xref:"paper",yref:"paper",x:(lefts[col]+sideX/2)/W,y:1-titleY[row]/H,text:panelTitles[p],showarrow:false,xanchor:"center",yanchor:"middle",font:{size:20.8,color:"#000"}});
  annotations.push({xref:"paper",yref:"paper",x:(lefts[col]+14)/W,y:1-rTextY[row]/H,text:panelR[p],showarrow:false,xanchor:"left",yanchor:"middle",font:{size:20,color:"#000"}});
});
// Legend drawn in a hidden pixel-scaled overlay so its row spacing matches the reference
layout.xaxis10={domain:[0,1],range:[0,W],visible:false,anchor:"y10",fixedrange:true};
layout.yaxis10={domain:[0,1],range:[H,0],visible:false,anchor:"x10",fixedrange:true};
traces.push({type:"scatter",mode:"lines",x:[687,785,788,788,785,687,684,684,687],y:[39,39,42,249,252,252,249,42,39],xaxis:"x10",yaxis:"y10",fill:"toself",fillcolor:"rgba(255,255,255,0.8)",line:{color:"#cccccc",width:1},hoverinfo:"skip"});
const legendY=monthNames.map((_,i)=>48+17.47*i);
traces.push({type:"scatter",mode:"markers",x:monthNames.map(()=>700),y:legendY,xaxis:"x10",yaxis:"y10",marker:{color:monthColors,size:9},hoverinfo:"skip"});
traces.push({type:"scatter",mode:"text",x:monthNames.map(()=>720),y:legendY.map(v=>v+1),text:monthNames,textposition:"middle right",textfont:{size:11.6,color:"#222",family:"DejaVu Sans, sans-serif"},xaxis:"x10",yaxis:"y10",hoverinfo:"skip"});
layout.annotations=annotations;
Plotly.newPlot("chart",traces,layout,{staticPlot:true,displayModeBar:false});
</script></body></html>
